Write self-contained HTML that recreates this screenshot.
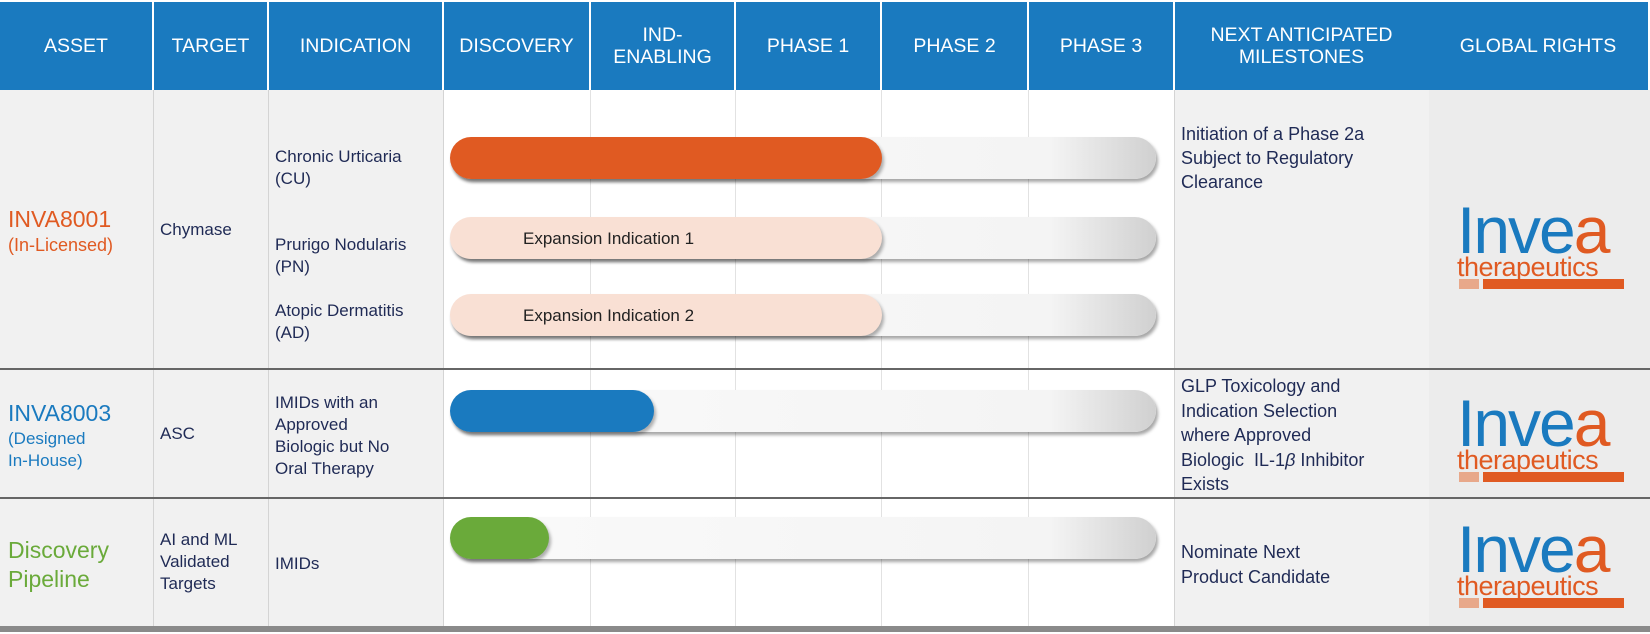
<!DOCTYPE html>
<html><head><meta charset="utf-8"><style>
*{margin:0;padding:0;box-sizing:border-box}
body{width:1650px;height:634px;background:#fff;position:relative;overflow:hidden;font-family:"Liberation Sans",sans-serif;color:#1f2a55}
.a{position:absolute}
.h{position:absolute;top:2px;height:88px;background:#1a7abf;color:#fff;font-size:19.5px;display:flex;align-items:center;justify-content:center;text-align:center;line-height:22px}
.vl{position:absolute;top:90px;width:1px;height:536px;background:#d4d4d4}
.bg{position:absolute;background:#f1f1f1}
.hl{position:absolute;left:0;width:1650px;height:2px;background:#666}
.t{position:absolute;font-size:17px;line-height:22px}
.track{position:absolute;left:450px;width:706px;height:42px;border-radius:21px;background:linear-gradient(to right,#fafafa 0%,#f4f4f4 85%,#d0d0d0 100%);box-shadow:2px 3px 3px rgba(0,0,0,.35)}
.fill{position:absolute;left:450px;height:42px;border-radius:21px;box-shadow:2px 3px 3px rgba(0,0,0,.3)}
.logo{position:absolute;left:1457px;width:168px;height:86px}
.logo .i{position:absolute;left:0;top:-6px;font-size:66px;color:#1a7abf;letter-spacing:-2px;line-height:66px}
.logo .i b{font-weight:normal;color:#e05a22}
.logo .th{position:absolute;left:0;top:50px;font-size:27px;color:#e05a22;line-height:28px;letter-spacing:-.5px}
.logo .s1{position:absolute;left:2px;top:76px;width:20px;height:10px;background:#e8a88a}
.logo .s2{position:absolute;left:26px;top:76px;width:141px;height:10px;background:#e05a22}
</style></head><body>
<div class="bg" style="left:0;top:90px;width:443px;height:536px"></div>
<div class="bg" style="left:1174px;top:90px;width:476px;height:536px"></div>
<div class="bg" style="left:1429px;top:90px;width:221px;height:536px;background:#ececec"></div>

<div class="h" style="left:0;width:152px">ASSET</div>
<div class="h" style="left:154px;width:113px">TARGET</div>
<div class="h" style="left:269px;width:173px">INDICATION</div>
<div class="h" style="left:444px;width:145px">DISCOVERY</div>
<div class="h" style="left:591px;width:143px">IND-<br>ENABLING</div>
<div class="h" style="left:736px;width:144px">PHASE 1</div>
<div class="h" style="left:882px;width:145px">PHASE 2</div>
<div class="h" style="left:1029px;width:144px">PHASE 3</div>
<div class="h" style="left:1175px;width:253px">NEXT ANTICIPATED<br>MILESTONES</div>
<div class="h" style="left:1428px;width:220px">GLOBAL RIGHTS</div>

<div class="vl" style="left:153px"></div>
<div class="vl" style="left:268px"></div>
<div class="vl" style="left:443px"></div>
<div class="vl" style="left:590px;background:#e2e2e2"></div>
<div class="vl" style="left:735px;background:#e2e2e2"></div>
<div class="vl" style="left:881px;background:#e2e2e2"></div>
<div class="vl" style="left:1028px;background:#e2e2e2"></div>
<div class="vl" style="left:1174px"></div>

<div class="hl" style="top:368px"></div>
<div class="hl" style="top:497px"></div>
<div class="a" style="left:0;top:626px;width:1650px;height:6px;background:#8a8a8a"></div>

<div class="t" style="left:8px;top:206px;font-size:23px;color:#e05a22;line-height:26px">INVA8001</div>
<div class="t" style="left:8px;top:234px;font-size:18px;color:#e05a22">(In-Licensed)</div>
<div class="t" style="left:160px;top:219px">Chymase</div>
<div class="t" style="left:275px;top:146px">Chronic Urticaria<br>(CU)</div>
<div class="t" style="left:275px;top:234px">Prurigo Nodularis<br>(PN)</div>
<div class="t" style="left:275px;top:300px">Atopic Dermatitis<br>(AD)</div>

<div class="t" style="left:8px;top:400px;font-size:23px;color:#1a7abf;line-height:26px">INVA8003</div>
<div class="t" style="left:8px;top:428px;color:#1a7abf">(Designed<br>In-House)</div>
<div class="t" style="left:160px;top:423px">ASC</div>
<div class="t" style="left:275px;top:392px">IMIDs with an<br>Approved<br>Biologic but No<br>Oral Therapy</div>

<div class="t" style="left:8px;top:536px;font-size:23px;color:#6aaa3a;line-height:29px">Discovery<br>Pipeline</div>
<div class="t" style="left:160px;top:529px">AI and ML<br>Validated<br>Targets</div>
<div class="t" style="left:275px;top:553px">IMIDs</div>

<div class="track" style="top:137px"></div>
<div class="fill" style="top:137px;width:432px;background:#e05a22"></div>
<div class="track" style="top:217px"></div>
<div class="fill" style="top:217px;width:432px;background:#f9e0d4"></div>
<div class="t" style="left:523px;top:228px;color:#222">Expansion Indication 1</div>
<div class="track" style="top:294px"></div>
<div class="fill" style="top:294px;width:432px;background:#f9e0d4"></div>
<div class="t" style="left:523px;top:305px;color:#222">Expansion Indication 2</div>
<div class="track" style="top:390px"></div>
<div class="fill" style="top:390px;width:204px;background:#1a7abf"></div>
<div class="track" style="top:517px"></div>
<div class="fill" style="top:517px;width:99px;background:#6aaa3a"></div>

<div class="t" style="left:1181px;top:122px;font-size:18px;line-height:24px">Initiation of a Phase 2a<br>Subject to Regulatory<br>Clearance</div>
<div class="t" style="left:1181px;top:374px;font-size:18px;line-height:24.5px">GLP Toxicology and<br>Indication Selection<br>where Approved<br>Biologic&nbsp; IL-1<i>β</i> Inhibitor<br>Exists</div>
<div class="t" style="left:1181px;top:540px;font-size:18px;line-height:24.5px">Nominate Next<br>Product Candidate</div>

<div class="logo" style="top:203px"><div class="i">Inve<b>a</b></div><div class="th">therapeutics</div><div class="s1"></div><div class="s2"></div></div>
<div class="logo" style="top:396px"><div class="i">Inve<b>a</b></div><div class="th">therapeutics</div><div class="s1"></div><div class="s2"></div></div>
<div class="logo" style="top:522px"><div class="i">Inve<b>a</b></div><div class="th">therapeutics</div><div class="s1"></div><div class="s2"></div></div>
</body></html>
